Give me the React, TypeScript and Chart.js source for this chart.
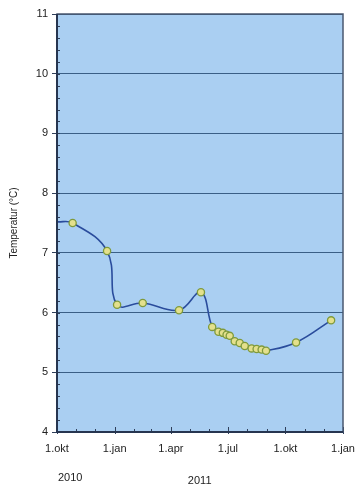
import React, { useEffect, useRef } from "react";
import { Chart, registerables } from "chart.js";

Chart.register(...registerables);

// days since 1 Oct 2010
const sampleDays = [0, 25, 80, 96, 137, 195, 230, 248, 258, 265, 271, 276, 284, 292, 300, 311, 319, 327, 334, 382, 438];
const temperatures = [7.52, 7.5, 7.03, 6.13, 6.16, 6.04, 6.34, 5.76, 5.68, 5.66, 5.63, 5.61, 5.52, 5.49, 5.44, 5.4, 5.39, 5.38, 5.36, 5.5, 5.87];
const showMarker = [false, true, true, true, true, true, true, true, true, true, true, true, true, true, true, true, true, true, true, true, true];

const majorTickDays = [0, 92, 182, 273, 365, 457];
const majorTickLabels = ["1.okt", "1.jan", "1.apr", "1.jul", "1.okt", "1.jan"];
const monthTickDays = [31, 61, 123, 151, 212, 243, 304, 335, 396, 426];
const yearLabels = ["2010", "2011"];
const yearLabelDays = [21, 228];
const yearLabelOffsets = [46, 49];

const yMin = 4;
const yMax = 11;

const FONT = "'Liberation Sans', Arial, sans-serif";

export default function App() {
  const ref = useRef<HTMLCanvasElement | null>(null);

  useEffect(() => {
    document.body.style.margin = "0";
    const canvas = ref.current;
    if (!canvas) return;

    const decor = {
      id: "decor",
      beforeDraw(chart: any) {
        const { ctx, chartArea } = chart;
        ctx.save();
        ctx.fillStyle = "#aacff2";
        ctx.fillRect(chartArea.left, chartArea.top, chartArea.right - chartArea.left, chartArea.bottom - chartArea.top);
        ctx.restore();
      },
      afterDatasetsDraw(chart: any) {
        const { ctx, chartArea } = chart;
        const xs = chart.scales.x;
        const ys = chart.scales.y;
        ctx.save();
        ctx.strokeStyle = "#2f3f5a";
        ctx.lineWidth = 1;
        // y minor ticks
        for (let v = yMin; v <= yMax + 1e-6; v += 0.2) {
          const y = Math.round(ys.getPixelForValue(v)) + 0.5;
          ctx.beginPath();
          ctx.moveTo(chartArea.left, y);
          ctx.lineTo(chartArea.left + 3, y);
          ctx.stroke();
        }
        // x month ticks
        for (const d of monthTickDays) {
          const x = Math.round(xs.getPixelForValue(d)) + 0.5;
          ctx.beginPath();
          ctx.moveTo(x, chartArea.bottom);
          ctx.lineTo(x, chartArea.bottom - 3);
          ctx.stroke();
        }
        for (const d of majorTickDays) {
          const x = Math.round(xs.getPixelForValue(d)) + 0.5;
          ctx.beginPath();
          ctx.moveTo(x, chartArea.bottom + 2);
          ctx.lineTo(x, chartArea.bottom - 5);
          ctx.stroke();
        }
        // border
        ctx.strokeStyle = "#4a5870";
        ctx.lineWidth = 1.5;
        ctx.strokeRect(chartArea.left, chartArea.top, chartArea.right - chartArea.left, chartArea.bottom - chartArea.top);
        ctx.strokeStyle = "#263550";
        ctx.lineWidth = 2;
        ctx.beginPath();
        ctx.moveTo(chartArea.left, chartArea.top);
        ctx.lineTo(chartArea.left, chartArea.bottom);
        ctx.lineTo(chartArea.right, chartArea.bottom);
        ctx.stroke();
        // year labels
        ctx.fillStyle = "#222";
        ctx.font = `11px ${FONT}`;
        ctx.textAlign = "center";
        ctx.textBaseline = "middle";
        yearLabels.forEach((t, i) => {
          ctx.fillText(t, xs.getPixelForValue(yearLabelDays[i]), chartArea.bottom + yearLabelOffsets[i]);
        });
        ctx.restore();
      },
    };

    const chart = new Chart(canvas, {
      type: "line",
      data: {
        datasets: [
          {
            data: sampleDays.map((d, i) => ({ x: d, y: temperatures[i] })),
            borderColor: "#2a4c9c",
            borderWidth: 1.6,
            tension: 0.4,
            pointRadius: showMarker.map((s) => (s ? 3.6 : 0)),
            pointBackgroundColor: "#e4e08c",
            pointBorderColor: "#7f9a3c",
            pointBorderWidth: 1.3,
            fill: false,
          },
        ],
      },
      plugins: [decor],
      options: {
        animation: false,
        responsive: false,
        maintainAspectRatio: false,
        layout: { padding: { top: 14, right: 13, left: 0, bottom: 0 } },
        plugins: { legend: { display: false }, tooltip: { enabled: false } },
        scales: {
          x: {
            type: "linear",
            min: 0,
            max: 457,
            afterBuildTicks: (scale: any) => {
              scale.ticks = majorTickDays.map((v) => ({ value: v }));
            },
            afterFit: (scale: any) => {
              scale.height = 54;
              scale.paddingRight = 0;
              scale.paddingLeft = 0;
            },
            ticks: {
              autoSkip: false,
              maxRotation: 0,
              padding: 10,
              color: "#222",
              font: { family: FONT, size: 11 },
              callback: (v: any) => {
                const i = majorTickDays.indexOf(Number(v));
                return i >= 0 ? majorTickLabels[i] : "";
              },
            },
            grid: { display: false, drawTicks: false },
            border: { display: false },
          },
          y: {
            min: yMin,
            max: yMax,
            afterFit: (scale: any) => {
              scale.width = 57;
              scale.paddingTop = 0;
              scale.paddingBottom = 0;
            },
            ticks: {
              stepSize: 1,
              padding: 4,
              color: "#222",
              font: { family: FONT, size: 11 },
            },
            grid: {
              color: "#3a5f86",
              lineWidth: 1,
              drawTicks: true,
              tickLength: 5,
              tickColor: "#2f3f5a",
            },
            border: { display: false },
            title: {
              display: true,
              text: "Temperatur (°C)",
              color: "#222",
              font: { family: FONT, size: 10 },
              padding: { top: 8, bottom: 0 },
            },
          },
        },
      },
    });
    return () => chart.destroy();
  }, []);

  return <canvas ref={ref} width={356} height={486} style={{ display: "block" }} />;
}
